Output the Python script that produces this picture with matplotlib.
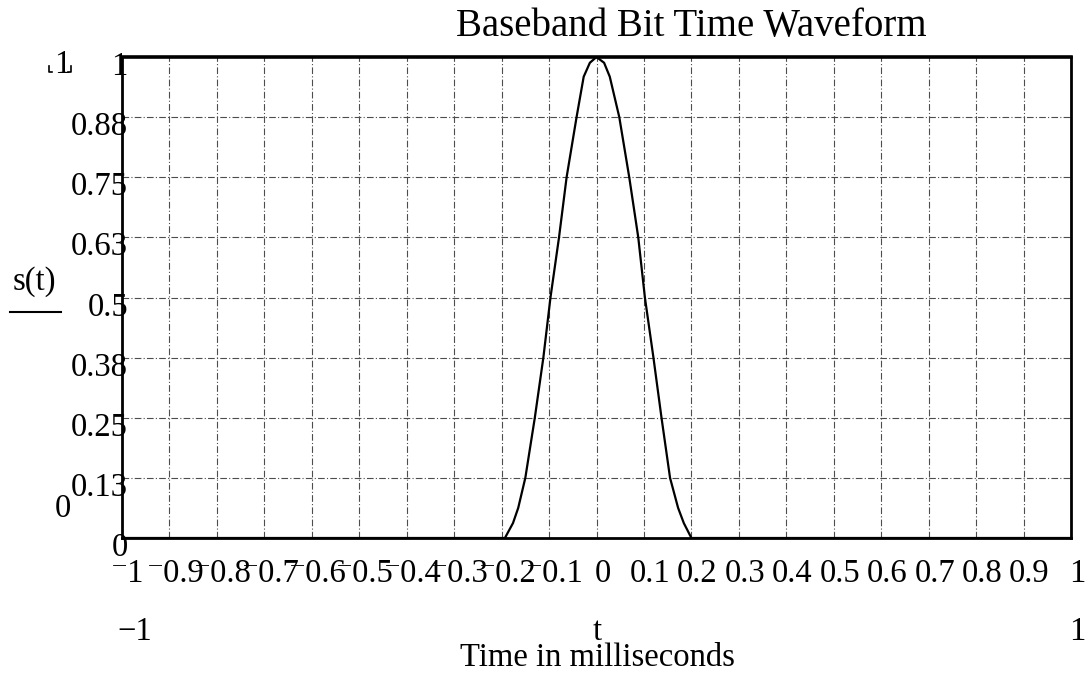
import matplotlib
matplotlib.use("Agg")
import matplotlib.pyplot as plt
import matplotlib.transforms as mtransforms
from matplotlib.lines import Line2D

# values
t_ms = [-1.0, -0.2, -0.193, -0.176, -0.165, -0.150, -0.130, -0.112, -0.097,
        -0.079, -0.063, -0.042, -0.027, -0.014, 0.0, 0.016, 0.028, 0.048,
        0.069, 0.088, 0.102, 0.120, 0.137, 0.155, 0.172, 0.184, 0.200, 1.0]
s_t = [0.0, 0.0, 0.0, 0.031, 0.0625, 0.125, 0.25, 0.375, 0.5,
       0.625, 0.75, 0.875, 0.959, 0.988, 1.0, 0.988, 0.959, 0.875,
       0.75, 0.625, 0.5, 0.375, 0.25, 0.125, 0.0625, 0.031, 0.0, 0.0]

x_ticks = [-1.0, -0.9, -0.8, -0.7, -0.6, -0.5, -0.4, -0.3, -0.2, -0.1, 0.0,
           0.1, 0.2, 0.3, 0.4, 0.5, 0.6, 0.7, 0.8, 0.9, 1.0]
x_labels = ["\u207b1", "\u207b0.9", "\u207b0.8", "\u207b0.7", "\u207b0.6",
            "\u207b0.5", "\u207b0.4", "\u207b0.3", "\u207b0.2", "\u207b0.1",
            "0", "0.1", "0.2", "0.3", "0.4", "0.5", "0.6", "0.7", "0.8",
            "0.9", "1"]
y_ticks = [0.0, 0.125, 0.25, 0.375, 0.5, 0.625, 0.75, 0.875, 1.0]
y_labels = ["0", "0.13", "0.25", "0.38", "0.5", "0.63", "0.75", "0.88", "1"]

plt.rcParams["font.family"] = ["Liberation Serif", "DejaVu Serif"]
W, H = 1086, 674
fig = plt.figure(figsize=(W / 100, H / 100), dpi=100)
ax = fig.add_axes([122 / W, 1 - 538 / H, (1071 - 122) / W, (538 - 57) / H])

ax.plot(t_ms, s_t, color="black", lw=1.6, zorder=3, solid_joinstyle="round")
ax.set_xlim(-1, 1)
ax.set_ylim(0, 1)

grid_style = dict(color="0.3", lw=0.8, linestyle=(0, (6, 2, 1, 2)))
ax.set_xticks(x_ticks)
ax.set_yticks(y_ticks)
ax.grid(True, **grid_style)
for sp in ax.spines.values():
    sp.set_linewidth(2.0)
    sp.set_zorder(4)
ax.spines["top"].set_linewidth(2.6)

ax.tick_params(length=0, pad=0)
ax.set_xticklabels(x_labels, fontsize=23.5, va="baseline")
ax.set_yticklabels(y_labels, fontsize=23.5, va="baseline", ha="right")
xoff = mtransforms.ScaledTranslation(0.06, -0.44, fig.dpi_scale_trans)
for lab in ax.get_xticklabels():
    lab.set_transform(lab.get_transform() + xoff)
yoff = mtransforms.ScaledTranslation(0.06, -0.18, fig.dpi_scale_trans)
for lab in ax.get_yticklabels():
    lab.set_transform(lab.get_transform() + yoff)


def ftext(x, y, s, **kw):
    fig.text(x / W, 1 - y / H, s, va="baseline", **kw)


ftext(691, 36, "Baseband Bit Time Waveform", fontsize=28, ha="center")
ftext(62, 73, "1", fontsize=23.5, ha="center")
fig.add_artist(Line2D([49 / W, 49 / W, 52 / W], [1 - 66 / H, 1 - 72 / H, 1 - 72 / H],
                      color="black", lw=1.2))
fig.add_artist(Line2D([68 / W, 71 / W, 71 / W], [1 - 72 / H, 1 - 72 / H, 1 - 66 / H],
                      color="black", lw=1.2))
ftext(63, 517, "0", fontsize=23.5, ha="center")
ftext(34, 290, "s(t)", fontsize=23.5, ha="center")
fig.add_artist(Line2D([10 / W, 61 / W], [1 - 312 / H, 1 - 312 / H], color="black", lw=1.5))
ftext(135, 640, "\u22121", fontsize=23.5, ha="center")
ftext(597, 640, "t", fontsize=23.5, ha="center")
ftext(1077, 640, "1", fontsize=23.5, ha="center")
ftext(597, 666, "Time in milliseconds", fontsize=23.5, ha="center")

fig.savefig("out.png", dpi=100)
